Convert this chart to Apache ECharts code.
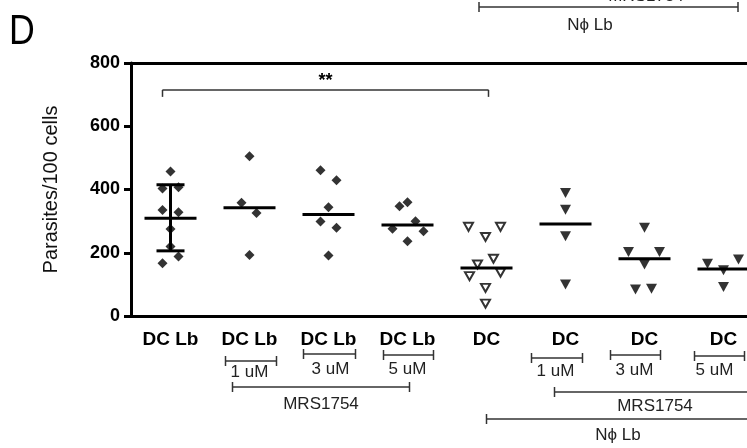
<!DOCTYPE html>
<html>
<head>
<meta charset="utf-8">
<script src="https://cdn.jsdelivr.net/npm/echarts@6/dist/echarts.min.js"></script>
<style>
  html, body { margin: 0; padding: 0; background: #fff; }
  #chart { width: 747px; height: 448px; }
</style>
</head>
<body>
<div id="chart"></div>
<script>
// Group labels along the x axis
const categories = ['DC Lb', 'DC Lb', 'DC Lb', 'DC Lb', 'DC', 'DC', 'DC', 'DC'];
const yTicks = [0, 200, 400, 600, 800];

// Parasites per 100 cells, one array per condition
const dcLb = [457, 403, 407, 335, 328, 275, 220, 188, 167];
const dcLb1uM = [505, 358, 326, 193];
const dcLb3uM = [461, 429, 344, 299, 279, 191];
const dcLb5uM = [347, 360, 276, 300, 268, 236];
const dcNphiLb = [282, 250, 282, 181, 163, 126, 137, 89, 39];
const dcNphiLb1uM = [389, 336, 252, 100];
const dcNphiLb3uM = [279, 202, 202, 163, 84, 86];
const dcNphiLb5uM = [165, 145, 179, 92];

// Group means and the spread bar of the untreated DC Lb group
const groupMeans = [309, 342, 321, 288, 152, 291, 181, 149];
const dcLbSdRange = [206, 415];

// Significance bracket between DC Lb and DC (Nϕ Lb)
const sigPair = [0, 4];
const sigLevel = 715;
const sigText = '**';

// Horizontal scatter of overlapping dots (pixels), purely cosmetic
const spread = [
  [0, -8, 8, -8, 8, 0, 0, 8, -8],
  [0, -8, 7, 0],
  [-8, 8, 0, -8, 8, 0],
  [-8, 0, -15, 8, 16, 0],
  [-18, -1, 14, 7, -9, -17, 14, -1, -1],
  [0, 0, 0, 0],
  [0, -16, 15, 0, -9, 7],
  [-16, 0, 15, 0]
];

const groups = [dcLb, dcLb1uM, dcLb3uM, dcLb5uM, dcNphiLb, dcNphiLb1uM, dcNphiLb3uM, dcNphiLb5uM];
const FONT = '"Liberation Sans", Arial, Helvetica, sans-serif';

function points(indices) {
  const out = [];
  indices.forEach(function (g) {
    groups[g].forEach(function (v, k) {
      out.push({ value: [g, v], symbolOffset: [spread[g][k], 0] });
    });
  });
  return out;
}

const chart = echarts.init(document.getElementById('chart'), null, { renderer: 'canvas' });

const option = {
  animation: false,
  backgroundColor: '#fff',
  grid: { left: 131, top: 63, width: 632, bottom: 132, containLabel: false, outerBoundsMode: 'none' },
  xAxis: [
    {
      type: 'category',
      data: categories,
      position: 'bottom',
      axisLine: { lineStyle: { color: '#000', width: 3 } },
      axisTick: { alignWithLabel: true, length: 7, lineStyle: { color: '#000', width: 3 } },
      axisLabel: { interval: 0, color: '#000', fontWeight: 'bold', fontSize: 19, fontFamily: FONT, margin: 14 },
      splitLine: { show: false }
    },
    {
      type: 'category',
      data: categories,
      position: 'top',
      axisLine: { lineStyle: { color: '#000', width: 3 } },
      axisTick: { show: false },
      axisLabel: { show: false },
      splitLine: { show: false }
    }
  ],
  yAxis: {
    type: 'value',
    min: yTicks[0],
    max: yTicks[yTicks.length - 1],
    interval: yTicks[1] - yTicks[0],
    axisLine: { show: true, lineStyle: { color: '#000', width: 3 } },
    axisTick: { show: true, length: 7, lineStyle: { color: '#000', width: 3 } },
    axisLabel: { color: '#000', fontWeight: 'bold', fontSize: 18, fontFamily: FONT, margin: 11 },
    splitLine: { show: false },
    name: 'Parasites/100 cells',
    nameLocation: 'middle',
    nameGap: 70,
    nameTextStyle: { color: '#111', fontSize: 20, fontFamily: FONT }
  },
  series: [
    {
      type: 'scatter',
      symbol: 'diamond',
      symbolSize: 10,
      itemStyle: { color: '#000' },
      data: points([0, 1, 2, 3]),
      z: 3
    },
    {
      type: 'scatter',
      symbol: 'triangle',
      symbolRotate: 180,
      symbolSize: [9, 8],
      itemStyle: { color: '#fff', borderColor: '#000', borderWidth: 2 },
      data: points([4]),
      z: 3
    },
    {
      type: 'scatter',
      symbol: 'triangle',
      symbolRotate: 180,
      symbolSize: [11, 10],
      itemStyle: { color: '#000' },
      data: points([5, 6, 7]),
      z: 3
    },
    {
      // mean lines
      type: 'custom',
      data: groupMeans.map(function (m, i) { return [i, m]; }),
      renderItem: function (params, api) {
        const p = api.coord([api.value(0), api.value(1)]);
        return {
          type: 'line',
          shape: { x1: p[0] - 26, y1: p[1], x2: p[0] + 26, y2: p[1] },
          style: { stroke: '#000', lineWidth: 3 }
        };
      },
      z: 4
    },
    {
      // spread bar of the untreated DC Lb group
      type: 'custom',
      data: [[0, dcLbSdRange[0], dcLbSdRange[1]]],
      renderItem: function (params, api) {
        const lo = api.coord([api.value(0), api.value(1)]);
        const hi = api.coord([api.value(0), api.value(2)]);
        const st = { stroke: '#000', lineWidth: 3 };
        return {
          type: 'group',
          children: [
            { type: 'line', shape: { x1: lo[0], y1: lo[1], x2: hi[0], y2: hi[1] }, style: st },
            { type: 'line', shape: { x1: lo[0] - 14, y1: lo[1], x2: lo[0] + 14, y2: lo[1] }, style: st },
            { type: 'line', shape: { x1: hi[0] - 14, y1: hi[1], x2: hi[0] + 14, y2: hi[1] }, style: st }
          ]
        };
      },
      z: 4
    }
  ]
};

chart.setOption(option);

// Annotation brackets and labels, anchored to the category positions
function px(i, v) { return chart.convertToPixel({ xAxisIndex: 0, yAxisIndex: 0 }, [i, v]); }
const cx = categories.map(function (c, i) { return px(i, 0)[0]; });
const BR = '#333';

const gfx = [];
function line(x1, y1, x2, y2, w, color) {
  gfx.push({ type: 'line', shape: { x1: x1, y1: y1, x2: x2, y2: y2 }, style: { stroke: color || BR, lineWidth: w || 1.5 }, z: 10 });
}
function bracket(x1, x2, y, up, down) {
  line(x1, y, x2, y);
  line(x1, y - up, x1, y + down);
  line(x2, y - up, x2, y + down);
}
function label(text, x, y, size, weight, color, extra) {
  gfx.push(Object.assign({
    type: 'text',
    x: x, y: y,
    style: {
      text: text, x: 0, y: 0,
      fill: color || '#222',
      font: (weight || 'normal') + ' ' + size + 'px ' + FONT,
      textAlign: 'center', textVerticalAlign: 'middle'
    },
    z: 10
  }, extra || {}));
}

// Panel letter
label('D', 22, 32, 42, 'normal', '#000', { scaleX: 0.85 });

// Bracket carried over from the panel above
bracket(479, 738, 7, 5, 5);
label('Nϕ Lb', 590, 25, 17, 'normal', '#222');
label('MRS1754', 646, -4, 17, 'normal', '#222');

// Significance bracket
const sy = px(0, sigLevel)[1];
const sx1 = cx[sigPair[0]] - 8, sx2 = cx[sigPair[1]] + 2;
line(sx1, sy, sx2, sy, 1.5, '#333');
line(sx1, sy, sx1, sy + 7, 1.5, '#333');
line(sx2, sy, sx2, sy + 7, 1.5, '#333');
label(sigText, (sx1 + sx2) / 2, sy - 9, 18, 'bold', '#000');

// Concentration brackets under the axis
const doses = ['1 uM', '3 uM', '5 uM'];
const lbOffsets = [[-24, 27, 361, 0, 372], [-25, 27, 354, 2, 369], [-24, 26, 355, 0, 369]];
const nphiOffsets = [[-34, 17, 358, -10, 371], [-34, 16, 355, -10, 370], [-29, 21, 356, -9, 370]];
doses.forEach(function (d, k) {
  const a = lbOffsets[k], c = cx[k + 1];
  bracket(c + a[0], c + a[1], a[2], 5, 5);
  label(d, c + a[3], a[4], 17, 'normal', '#222');
  const b = nphiOffsets[k], e = cx[k + 5];
  bracket(e + b[0], e + b[1], b[2], 5, 5);
  label(d, e + b[3], b[4], 17, 'normal', '#222');
});

// Inhibitor and infection brackets
bracket(cx[1] - 17, cx[3] + 2, 387, 5, 5);
label('MRS1754', 321, 404, 17, 'normal', '#222');
bracket(cx[5] - 11, cx[7] + 40, 392, 5, 5);
label('MRS1754', 655, 406, 17, 'normal', '#222');
bracket(cx[4], cx[7] + 40, 419, 5, 5);
label('Nϕ Lb', 618, 435, 17, 'normal', '#222');

chart.setOption({ graphic: gfx });
</script>
</body>
</html>
